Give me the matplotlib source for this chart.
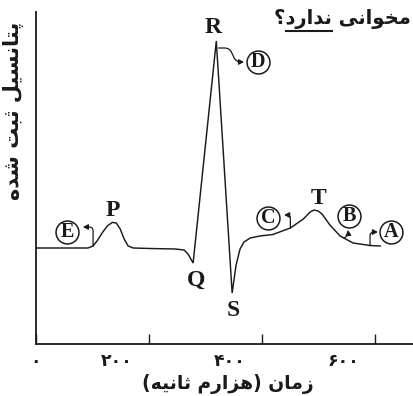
import numpy as np
import matplotlib
matplotlib.use("Agg")
import matplotlib.pyplot as plt
from matplotlib.patches import FancyArrowPatch
from matplotlib.transforms import ScaledTranslation
from matplotlib.lines import Line2D

# ---------------- data ----------------
time_ms = [0, 92, 101, 108, 117, 126, 135, 142, 149, 156, 163, 172, 202, 246,
           262, 269, 278, 319, 347, 354, 361, 368, 379, 396, 419, 450, 473,
           485, 492, 499, 506, 520, 538, 561, 591, 609]
voltage = [0, 0, 0.01, 0.035, 0.075, 0.11, 0.128, 0.125, 0.095, 0.045, 0.01, 0,
           -0.0025, -0.005, -0.01, -0.03, -0.075, 1.035, -0.225, -0.085, -0.005,
           0.03, 0.05, 0.06, 0.0675, 0.10, 0.145, 0.18, 0.19, 0.185, 0.17, 0.115,
           0.06, 0.025, 0.0125, 0.01]

tick_values = [0, 200, 400, 600]
tick_labels = ["۰", "۲۰۰", "۴۰۰", "۶۰۰"]

wave_names = ["P", "Q", "R", "S", "T"]
wave_times = [135, 278, 319, 347, 492]

circle_names = ["E", "D", "C", "B", "A"]
circle_t = [55, 393, 411, 554, 628]
circle_v = [0.08, 0.93, 0.15, 0.16, 0.08]

title_text = "مخوانی ندارد؟"
xlabel_text = "زمان (هزارم ثانیه)"
ylabel_text = "پتانسیل ثبت شده"

# ---------------- Persian shaping (presentation forms) ----------------
FORMS = {
    'ا': ('\uFE8D', '\uFE8E', None, None),
    'ب': ('\uFE8F', '\uFE90', '\uFE91', '\uFE92'),
    'پ': ('\uFB56', '\uFB57', '\uFB58', '\uFB59'),
    'ت': ('\uFE95', '\uFE96', '\uFE97', '\uFE98'),
    'ث': ('\uFE99', '\uFE9A', '\uFE9B', '\uFE9C'),
    'خ': ('\uFEA5', '\uFEA6', '\uFEA7', '\uFEA8'),
    'د': ('\uFEA9', '\uFEAA', None, None),
    'ر': ('\uFEAD', '\uFEAE', None, None),
    'ز': ('\uFEAF', '\uFEB0', None, None),
    'س': ('\uFEB1', '\uFEB2', '\uFEB3', '\uFEB4'),
    'ش': ('\uFEB5', '\uFEB6', '\uFEB7', '\uFEB8'),
    'ل': ('\uFEDD', '\uFEDE', '\uFEDF', '\uFEE0'),
    'م': ('\uFEE1', '\uFEE2', '\uFEE3', '\uFEE4'),
    'ن': ('\uFEE5', '\uFEE6', '\uFEE7', '\uFEE8'),
    'ه': ('\uFEE9', '\uFEEA', '\uFEEB', '\uFEEC'),
    'و': ('\uFEED', '\uFEEE', None, None),
    'ی': ('\uFBFC', '\uFBFD', '\uFBFE', '\uFBFF'),
}
MIRROR = {'(': ')', ')': '('}


def shape(text):
    chars = [c for c in text]
    out = []
    for i, c in enumerate(chars):
        if c not in FORMS:
            if c == '\u200c':
                continue
            out.append(MIRROR.get(c, c))
            continue
        prev = chars[i - 1] if i > 0 else None
        nxt = chars[i + 1] if i + 1 < len(chars) else None
        jp = prev in FORMS and FORMS[prev][2] is not None
        jn = FORMS[c][2] is not None and nxt in FORMS
        f = FORMS[c]
        if jp and jn:
            g = f[3]
        elif jp:
            g = f[1]
        elif jn:
            g = f[2]
        else:
            g = f[0]
        out.append(g)
    return ''.join(reversed(out))


# ---------------- figure ----------------
W, H = 413, 396
INK = "#1a1a1a"
fig = plt.figure(figsize=(W / 100, H / 100), dpi=100)
ax = fig.add_axes([36 / W, (H - 344) / H, (W - 36) / W, (344 - 12) / H])

t = np.array(time_ms, dtype=float)
v = np.array(voltage, dtype=float)
ax.plot(t, v, color=INK, lw=1.05, solid_joinstyle="miter")

ax.set_xlim(0, 667)
ax.set_ylim(-0.48, 1.18)
for s in ["top", "right"]:
    ax.spines[s].set_visible(False)
for s in ["left", "bottom"]:
    ax.spines[s].set_linewidth(1.3)
    ax.spines[s].set_color(INK)
ax.set_yticks([])
ax.set_xticks(tick_values)
ax.set_xticklabels(tick_labels, fontsize=12.5, fontweight="bold",
                   family=["DejaVu Sans"], color=INK)
ax.tick_params(axis="x", direction="in", length=7, width=1.0, pad=6,
               color=INK)
for i, lab in enumerate(ax.get_xticklabels()):
    if i > 0:
        lab.set_transform(lab.get_transform() +
                          ScaledTranslation(-0.32, 0, fig.dpi_scale_trans))

ax.set_xlabel(shape(xlabel_text), fontsize=13.5, fontweight="bold",
              family=["DejaVu Sans"], color=INK)
ax.xaxis.set_label_coords(0.508, -0.09)
fig.text(14 / W, 1 - 111 / H, shape(ylabel_text), rotation=90, fontsize=15,
         fontweight="bold", family=["DejaVu Sans"], ha="center", va="center",
         color=INK)

serif = ["Liberation Serif"]
offsets = {"P": (0, 1), "Q": (2, -5), "R": (-2, 2), "S": (1, -5), "T": (3, 1)}
for name, tt in zip(wave_names, wave_times):
    yy = np.interp(tt, t, v)
    dx, dy = offsets[name]
    va = "bottom" if dy > 0 else "top"
    ax.annotate(name, (tt, yy), xytext=(dx, dy), textcoords="offset points",
                ha="center", va=va, fontsize=17, fontweight="bold",
                family=serif, color=INK)

for name, ct, cv in zip(circle_names, circle_t, circle_v):
    ax.plot(ct, cv, "o", ms=16.5, mfc="white", mec=INK, mew=1.1)
    ax.text(ct, cv, name, ha="center", va="center", fontsize=14.5,
            fontweight="bold", family=serif, color=INK)

# arrows from the curve to the circles
arrow_specs = [
    (101, 83, 0.105, "angle,angleA=90,angleB=0,rad=4"),
    (450, 439, 0.165, "angle,angleA=90,angleB=0,rad=3"),
    (545, 552, 0.09, "arc3,rad=0.3"),
    (591, 605, 0.08, "angle,angleA=90,angleB=0,rad=4"),
]
for ta, tb, vb, cs in arrow_specs:
    va_ = np.interp(ta, t, v)
    ar = FancyArrowPatch((ta, va_), (tb, vb), connectionstyle=cs,
                         arrowstyle="-|>,head_length=3,head_width=1.6",
                         lw=0.9, color=INK, shrinkA=0, shrinkB=0)
    ax.add_patch(ar)

# D arrow from R's descending leg
ar = FancyArrowPatch((323, 1.0), (368, 0.93),
                     connectionstyle="arc,angleA=0,angleB=180,armA=11,armB=8,rad=5",
                     arrowstyle="-|>,head_length=3,head_width=1.6",
                     lw=0.9, color=INK, shrinkA=0, shrinkB=0)
ax.add_patch(ar)

# title fragment with underline, sized to fit between x=274 px and the edge
fig.canvas.draw()
r = fig.canvas.get_renderer()


def text_w(s, fs):
    p = fig.text(0, 0, s, fontsize=fs, fontweight="bold", family=["DejaVu Sans"])
    w = p.get_window_extent(r).width
    p.remove()
    return w


X0 = 274
FS_T = 15 * (W - 2 - X0) / text_w(shape(title_text), 15)
fig.text(X0 / W, 1 - 24 / H, shape(title_text), fontsize=FS_T,
         fontweight="bold", family=["DejaVu Sans"], ha="left",
         va="baseline", color=INK)
w_all = text_w(shape("ندارد؟"), FS_T)
w_q = text_w(shape("؟"), FS_T)
x0 = X0 + w_q + 1
x1 = X0 + w_all
fig.add_artist(Line2D([x0 / W, x1 / W], [1 - 31 / H, 1 - 31 / H],
                      transform=fig.transFigure, color=INK, lw=1.5))

fig.savefig("out.png", dpi=100)
